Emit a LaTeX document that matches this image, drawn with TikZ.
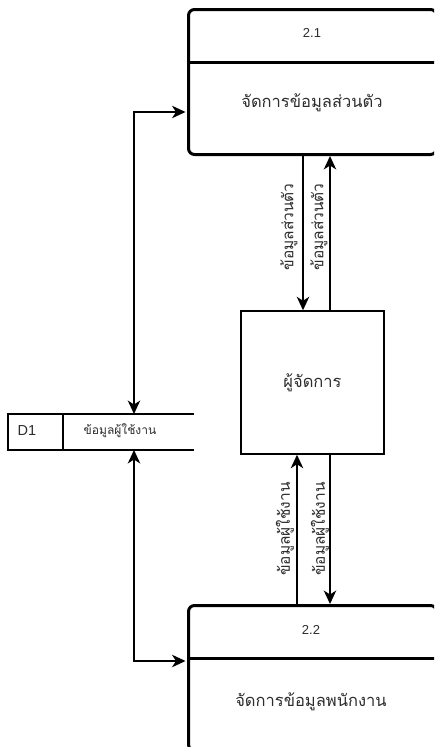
\documentclass[tikz,border=0pt]{standalone}
\usepackage{fontspec}
\setmainfont{Liberation Sans}
\newfontfamily\thai[Script=Thai]{Loma}
\usetikzlibrary{arrows.meta}
\definecolor{txt}{RGB}{45,45,45}
\begin{document}
\begin{tikzpicture}[x=1pt,y=-1pt,
  procbox/.style={draw=black, line width=3pt, rounded corners=6pt, anchor=north west, minimum width=248pt, minimum height=145pt, inner sep=0pt},
  divline/.style={draw=black, line width=3pt},
  mgrbox/.style={draw=black, line width=1.5pt, minimum width=143pt, minimum height=143pt, inner sep=0pt, text=txt, font=\thai\fontsize{16.5}{18}\selectfont},
  storeline/.style={draw=black, line width=1.3pt},
  numtxt/.style={text=txt, font=\fontsize{13}{15}\selectfont, inner sep=0pt},
  lbltxt/.style={text=txt, font=\thai\fontsize{16.5}{18}\selectfont, inner sep=0pt},
  flowlbl/.style={text=txt, font=\thai\fontsize{15.5}{17}\selectfont, inner sep=0pt, rotate=90},
  flow/.style={draw=black, line width=1.5pt},
  tip/.tip={Stealth[length=13.5pt,width=12.5pt,inset=4pt]}
]
\useasboundingbox (0,0) rectangle (434,747);
\clip (0,0) rectangle (434,747);
\fill[white] (0,0) rectangle (434,747);

% process 2.1
\node[procbox] (p21) at (187,8) {};
\draw[divline] (187,62) -- (436,62);
\node[numtxt] (n21) at (312,33) {2.1};
\node[lbltxt] (t21) at (312,103) {จัดการข้อมูลส่วนตัว};

% process 2.2
\node[procbox] (p22) at (187,604) {};
\draw[divline] (187,658) -- (436,658);
\node[numtxt] (n22) at (311,630) {2.2};
\node[lbltxt] (t22) at (311,702) {จัดการข้อมูลพนักงาน};

% manager
\node[mgrbox] (mgr) at (312.5,382.5) {ผู้จัดการ};

% data store D1
\draw[storeline] (194,414) -- (8,414) -- (8,450) -- (194,450);
\draw[storeline] (63,414) -- (63,450);
\node[numtxt, font=\fontsize{14.5}{16}\selectfont] (d1id) at (27,431) {D1};
\node[lbltxt, font=\thai\fontsize{12}{14}\selectfont] (d1name) at (120,431) {ข้อมูลผู้ใช้งาน};
\coordinate (d1top) at (134,414);
\coordinate (d1bot) at (134,450);
\coordinate (p21in) at (185.5,112);
\coordinate (p22in) at (185.5,661);

% connectors store <-> processes
\draw[flow, {tip}-{tip}] (d1top) |- (p21in);
\draw[flow, {tip}-{tip}] (d1bot) |- (p22in);

% connectors 2.1 <-> manager
\draw[flow, -{tip}] ([xshift=-9.5pt]mgr.north |- p21.south) -- ([xshift=-9.5pt]mgr.north);
\draw[flow, -{tip}] ([xshift=17.5pt]mgr.north) -- ([xshift=17.5pt]mgr.north |- p21.south);
\node[flowlbl] (l1) at (289,227) {ข้อมูลส่วนตัว};
\node[flowlbl] (l2) at (319,227) {ข้อมูลส่วนตัว};

% connectors manager <-> 2.2
\draw[flow, -{tip}] ([xshift=-15.5pt]mgr.south |- p22.north) -- ([xshift=-15.5pt]mgr.south);
\draw[flow, -{tip}] ([xshift=17.5pt]mgr.south) -- ([xshift=17.5pt]mgr.south |- p22.north);
\node[flowlbl] (l3) at (285,529) {ข้อมูลผู้ใช้งาน};
\node[flowlbl] (l4) at (320,529) {ข้อมูลผู้ใช้งาน};
\end{tikzpicture}
\end{document}
